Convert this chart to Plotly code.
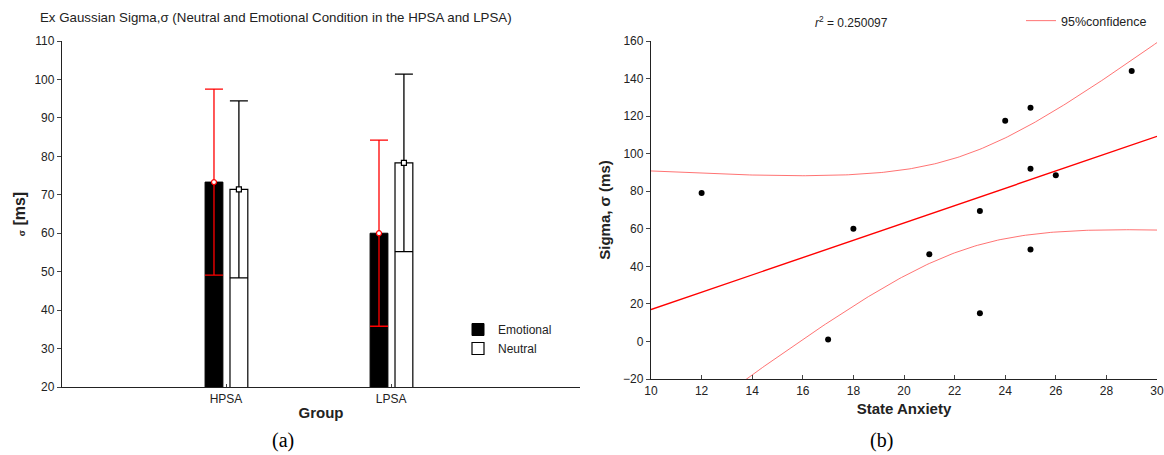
import numpy as np
import plotly.graph_objects as go

# ---------------- data (a) ----------------
groups = ["HPSA", "LPSA"]
emotional_mean = [73.3, 60.0]
emotional_err = [24.2, 24.2]
neutral_mean = [71.4, 78.3]
neutral_err = [23.0, 23.1]

# ---------------- data (b) ----------------
anxiety = [12, 17, 18, 21, 23, 23, 24, 25, 25, 25, 26, 29]
sigma = [79, 1, 60, 46.5, 69.5, 15, 117.5, 124.5, 92, 49, 88.5, 144]
r2_label = "0.250097"

FONT = "Liberation Sans, Arial, sans-serif"
W, H = 1164, 455

fig = go.Figure()

# ---------- panel (a) ----------
gpos = np.arange(len(groups))
emo_off, neu_off, bw = -0.127, 0.024, 0.108

fig.add_trace(go.Bar(
    x=gpos, y=emotional_mean, offset=emo_off, width=bw,
    marker=dict(color="black", line=dict(color="black", width=1)),
    name="Emotional", legend="legend", xaxis="x", yaxis="y", hoverinfo="skip"))
fig.add_trace(go.Bar(
    x=gpos, y=neutral_mean, offset=neu_off, width=bw,
    marker=dict(color="white", line=dict(color="black", width=1.2)),
    name="Neutral", legend="legend", xaxis="x", yaxis="y", hoverinfo="skip"))

fig.add_trace(go.Scatter(
    x=gpos + emo_off + bw / 2, y=emotional_mean, mode="markers",
    marker=dict(symbol="circle", size=5, color="white", line=dict(color="red", width=1.2)),
    error_y=dict(type="data", array=emotional_err, color="red", thickness=1.3, width=9),
    showlegend=False, xaxis="x", yaxis="y", hoverinfo="skip"))
fig.add_trace(go.Scatter(
    x=gpos + neu_off + bw / 2, y=neutral_mean, mode="markers",
    marker=dict(symbol="square", size=5, color="white", line=dict(color="black", width=1.2)),
    error_y=dict(type="data", array=neutral_err, color="black", thickness=1.3, width=9),
    showlegend=False, xaxis="x", yaxis="y", hoverinfo="skip"))

# ---------- panel (b) ----------
xa = np.array(anxiety, float)
ya = np.array(sigma, float)
n = len(xa)
slope, intercept = np.polyfit(xa, ya, 1)
xs = np.linspace(10, 30, 201)
fit = intercept + slope * xs
resid = ya - (intercept + slope * xa)
s = np.sqrt(np.sum(resid ** 2) / (n - 2))
sxx = np.sum((xa - xa.mean()) ** 2)
tval = 2.228  # t(0.975, 10 df)
half = tval * s * np.sqrt(1 / n + (xs - xa.mean()) ** 2 / sxx)

fig.add_trace(go.Scatter(x=xs, y=fit + half, mode="lines",
                         line=dict(color="rgba(255,90,90,0.85)", width=1),
                         name="95%confidence", legend="legend2",
                         xaxis="x2", yaxis="y2", hoverinfo="skip"))
fig.add_trace(go.Scatter(x=xs, y=fit - half, mode="lines",
                         line=dict(color="rgba(255,90,90,0.85)", width=1),
                         showlegend=False, xaxis="x2", yaxis="y2", hoverinfo="skip"))
fig.add_trace(go.Scatter(x=xs, y=fit, mode="lines",
                         line=dict(color="red", width=1.4),
                         showlegend=False, xaxis="x2", yaxis="y2", hoverinfo="skip"))
fig.add_trace(go.Scatter(x=anxiety, y=sigma, mode="markers",
                         marker=dict(color="black", size=6),
                         showlegend=False, xaxis="x2", yaxis="y2", hoverinfo="skip"))

axcommon = dict(showgrid=False, zeroline=False, showline=True, linecolor="#222",
                linewidth=1.3, automargin=False,
                tickfont=dict(family=FONT, size=12, color="#222"))

fig.update_layout(
    width=W, height=H, margin=dict(l=0, r=0, t=0, b=0, autoexpand=False),
    paper_bgcolor="white", plot_bgcolor="white",
    barmode="overlay",
    font=dict(family=FONT, color="#222"),
    xaxis=dict(domain=[62 / W, 580 / W], range=[-0.994, 2.145],
               tickvals=list(gpos), ticktext=groups, ticks="inside", ticklen=3,
               title=dict(text="<b>Group</b>", font=dict(size=15, family=FONT), standoff=2),
               anchor="y", **axcommon),
    yaxis=dict(domain=[1 - 387 / H, 1 - 41 / H], range=[20, 110], dtick=10,
               ticks="outside", ticklen=4,
               title=dict(text="<b><span style='font-size:9px'>σ</span> [ms]</b>",
                          font=dict(size=16, family=FONT), standoff=4),
               anchor="x", **axcommon),
    xaxis2=dict(domain=[651 / W, 1157 / W], range=[10, 30], dtick=2,
                ticks="inside", ticklen=4,
                title=dict(text="<b>State Anxiety</b>", font=dict(size=15, family=FONT), standoff=6),
                anchor="y2", **axcommon),
    yaxis2=dict(domain=[1 - 379 / H, 1 - 41 / H], range=[-20, 160], dtick=20,
                ticks="outside", ticklen=4,
                title=dict(text="<b>Sigma, σ (ms)</b>", font=dict(size=15, family=FONT), standoff=8),
                anchor="x2", **axcommon),
    legend=dict(x=458 / W, y=1 - 315 / H, xanchor="left", yanchor="top",
                font=dict(family=FONT, size=12, color="#222"), bgcolor="rgba(0,0,0,0)",
                itemwidth=30, tracegroupgap=0),
    legend2=dict(x=1021 / W, y=1 - 6 / H, xanchor="left", yanchor="top",
                 font=dict(family=FONT, size=12.5, color="#222"), bgcolor="rgba(0,0,0,0)",
                 itemwidth=30),
    annotations=[
        dict(text="Ex Gaussian Sigma,σ (Neutral and Emotional Condition in the HPSA and LPSA)",
             x=38 / W, y=1 - 18 / H, xref="paper", yref="paper", xanchor="left", yanchor="middle",
             showarrow=False, font=dict(family=FONT, size=13.3, color="#222")),
        dict(text="<i>r</i><sup>2</sup> = " + r2_label,
             x=851 / W, y=1 - 22 / H, xref="paper", yref="paper", xanchor="center", yanchor="middle",
             showarrow=False, font=dict(family=FONT, size=12, color="#222")),
        dict(text="(a)", x=283 / W, y=1 - 440 / H, xref="paper", yref="paper",
             xanchor="center", yanchor="middle", showarrow=False,
             font=dict(family="Liberation Serif, Times New Roman, serif", size=20, color="black")),
        dict(text="(b)", x=881 / W, y=1 - 440 / H, xref="paper", yref="paper",
             xanchor="center", yanchor="middle", showarrow=False,
             font=dict(family="Liberation Serif, Times New Roman, serif", size=20, color="black")),
    ],
)

fig.write_html("out.html", config={"displayModeBar": False},
               post_script="document.body.style.margin='0';document.body.style.overflow='hidden';")
